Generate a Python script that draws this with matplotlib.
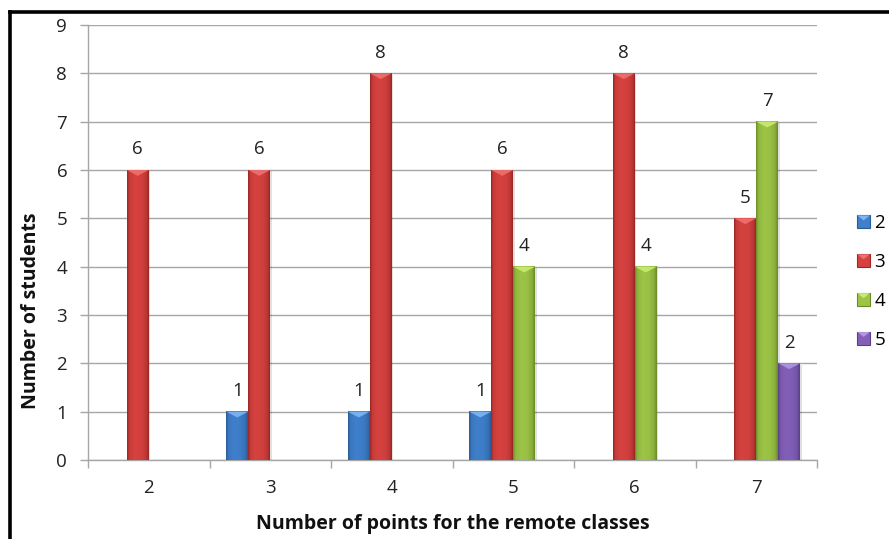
import numpy as np
import matplotlib
matplotlib.use("Agg")
import matplotlib.pyplot as plt
from matplotlib.patches import Rectangle, Polygon
from matplotlib.lines import Line2D
from matplotlib.legend_handler import HandlerBase
from matplotlib.colors import to_rgb

# ---- data -------------------------------------------------------------
points = ["2", "3", "4", "5", "6", "7"]          # points for the remote classes
series_names = ["2", "3", "4", "5"]                # grade of the students
grade_2 = [0, 1, 1, 1, 0, 0]
grade_3 = [6, 6, 8, 6, 8, 5]
grade_4 = [0, 0, 0, 4, 4, 7]
grade_5 = [0, 0, 0, 0, 0, 2]
y_ticks = list(range(0, 10))

# body colour, dark edge colour, bevel highlight colour per series
body_colors = ["#3F7FCB", "#D64240", "#9DC446", "#8260B8"]
edge_colors = ["#2B5C98", "#9A2826", "#6B8C2A", "#5A3F86"]
top_colors = ["#7DB6F2", "#F07070", "#C8EC70", "#B096E0"]

plt.rcParams["font.family"] = ["Open Sans", "DejaVu Sans"]
FS = 13.5
FS_TITLE = 14.0

fig = plt.figure(figsize=(8.89, 5.39), dpi=100)
ax = fig.add_axes([88 / 889, 1 - 460 / 539, (817 - 88) / 889, (460 - 25) / 539])

values = [grade_2, grade_3, grade_4, grade_5]
n_series = len(values)
x = np.arange(len(points))
bar_w = 0.181
offsets = (np.arange(n_series) - (n_series - 1) / 2) * bar_w


def shaded_column(body, dark, n=40):
    """Horizontal shading profile: dark edges, bright centre."""
    t = np.linspace(0, 1, n)
    w = np.interp(t, [0, 0.1, 0.35, 0.65, 0.88, 1], [0.0, 0.75, 1.0, 0.92, 0.6, 0.0])
    b = np.array(to_rgb(body))
    d = np.array(to_rgb(dark))
    return (d[None, :] + w[:, None] * (b - d)[None, :])[None, :, :]


bevel = 0.12  # depth of the top bevel in data units
for i, vals in enumerate(values):
    bars = ax.bar(x + offsets[i], vals, bar_w, color=body_colors[i], linewidth=0, zorder=2)
    img = shaded_column(body_colors[i], edge_colors[i])
    for rect, v in zip(bars, vals):
        if v <= 0:
            rect.set_visible(False)
            continue
        x0 = rect.get_x()
        x1 = x0 + rect.get_width()
        # soft shadow on the right
        ax.add_patch(Rectangle((x1, 0), 0.012, v - 0.03, facecolor="#000000", alpha=0.12,
                               linewidth=0, zorder=1.9))
        ax.imshow(img, extent=(x0, x1, 0, v), aspect="auto", interpolation="bilinear",
                  zorder=3)
        ax.add_patch(Polygon([(x0, v), (x1, v), ((x0 + x1) / 2, v - bevel)], closed=True,
                             facecolor=top_colors[i], edgecolor="none", alpha=0.9, zorder=4))
        ax.annotate(str(v), (rect.get_x() + rect.get_width() / 2, v), xytext=(0, 15),
                    textcoords="offset points", ha="center", va="center", fontsize=FS,
                    color="#222222", zorder=5)

ax.set_xlim(-0.5, len(points) - 0.5)
ax.set_ylim(0, 9)

# axes styling
ax.set_yticks(y_ticks)
ax.set_yticklabels([str(t) for t in y_ticks], fontsize=FS, color="#222222")
ax.yaxis.grid(True, color="#A6A6A6", linewidth=1.0)
ax.set_axisbelow(True)
ax.tick_params(axis="y", length=6, width=1, color="#A6A6A6", pad=9)

ax.set_xticks(np.arange(len(points) + 1) - 0.5)
ax.set_xticklabels([])
ax.set_xticks(x, minor=True)
ax.set_xticklabels(points, minor=True, fontsize=FS, color="#222222")
ax.tick_params(axis="x", which="major", length=6, width=1, color="#A6A6A6")
ax.tick_params(axis="x", which="minor", length=0, pad=14)

for side in ["top", "right"]:
    ax.spines[side].set_visible(False)
for side in ["left", "bottom"]:
    ax.spines[side].set_color("#A6A6A6")
    ax.spines[side].set_linewidth(1.0)

ax.set_xlabel("Number of points for the remote classes", fontsize=FS_TITLE, fontweight="bold",
              color="#111111")
ax.xaxis.set_label_coords(0.5, -0.124)
ax.set_ylabel("Number of students", fontsize=FS_TITLE, fontweight="bold", color="#111111")
ax.yaxis.set_label_coords(-0.064, 0.3425)


# legend with bevelled square keys
class BevelKey(HandlerBase):
    def create_artists(self, legend, orig_handle, xdescent, ydescent, width, height,
                       fontsize, trans):
        s = min(width, height) * 0.75
        cx = -xdescent + width - s / 2
        cy = -ydescent + height / 2
        k = orig_handle.get_gid()
        sq = Rectangle((cx - s / 2, cy - s / 2), s, s, facecolor=body_colors[k],
                       edgecolor=edge_colors[k], linewidth=0.8, transform=trans)
        tri = Polygon([(cx - s / 2, cy + s / 2), (cx + s / 2, cy + s / 2), (cx, cy + s * 0.1)],
                      closed=True, facecolor=top_colors[k], edgecolor="none", transform=trans)
        return [sq, tri]


handles = []
for k in range(n_series):
    h = Rectangle((0, 0), 1, 1, facecolor=body_colors[k])
    h.set_gid(k)
    handles.append(h)

fig.legend(handles, series_names, loc="center left", bbox_to_anchor=(838 / 889, 1 - 281 / 539),
           frameon=False, fontsize=FS, handlelength=1.0, handleheight=1.0, handletextpad=0.25,
           labelspacing=1.07, borderaxespad=0.3, handler_map={Rectangle: BevelKey()})

# chart frame (top and left edges)
fig.add_artist(Line2D([9.5 / 889, 9.5 / 889], [0, 1 - 12 / 539], transform=fig.transFigure,
                      color="black", linewidth=2.6, solid_capstyle="projecting"))
fig.add_artist(Line2D([9.5 / 889, 1], [1 - 12 / 539, 1 - 12 / 539], transform=fig.transFigure,
                      color="black", linewidth=2.6, solid_capstyle="projecting"))

fig.savefig("out.png", dpi=100, facecolor="white")
